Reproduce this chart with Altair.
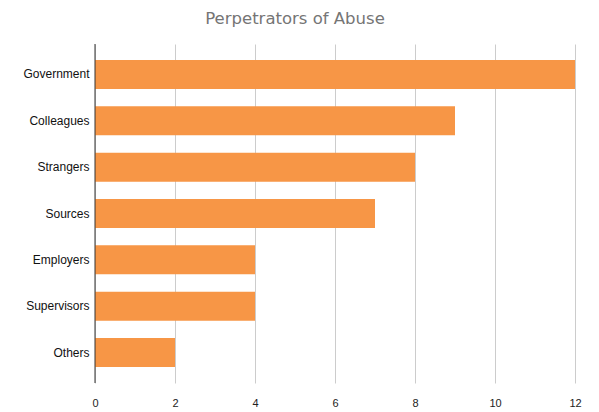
import altair as alt
import pandas as pd

categories = ["Government", "Colleagues", "Strangers", "Sources", "Employers", "Supervisors", "Others"]
counts = [12, 9, 8, 7, 4, 4, 2]
x_ticks = [0, 2, 4, 6, 8, 10, 12]

df = pd.DataFrame({"category": categories, "count": counts})

bars = alt.Chart(df).mark_bar(color="#F79646").encode(
    x=alt.X("count:Q",
            scale=alt.Scale(domain=[0, 12], nice=False),
            axis=alt.Axis(values=x_ticks, title=None, grid=True, gridColor="#cccccc",
                          domain=False, ticks=False, labelPadding=14, labelFlush=False,
                          labelFont="Liberation Sans", labelFontSize=11, labelColor="#222222")),
    y=alt.Y("category:N", sort=categories,
            scale=alt.Scale(paddingInner=0.374, paddingOuter=0.345),
            axis=alt.Axis(title=None, ticks=False, domain=False, labelPadding=6,
                          labelFont="Liberation Sans", labelFontSize=12, labelColor="#111111")),
)

zero_rule = alt.Chart(pd.DataFrame({"x": [0]})).mark_rule(color="#333333", strokeWidth=1).encode(x="x:Q")

final = alt.layer(bars, zero_rule).properties(
    width=480, height=339,
    title=alt.TitleParams("Perpetrators of Abuse", font="DejaVu Sans", fontSize=16.5,
                          fontWeight="normal", color="#757575", anchor="middle",
                          offset=16, dx=-40),
    autosize=alt.AutoSizeParams(type="none"),
    padding={"left": 87, "top": 36, "right": 16, "bottom": 28},
).configure_view(stroke=None)

final.save("out.html", embed_options={"renderer": "svg", "actions": False})
